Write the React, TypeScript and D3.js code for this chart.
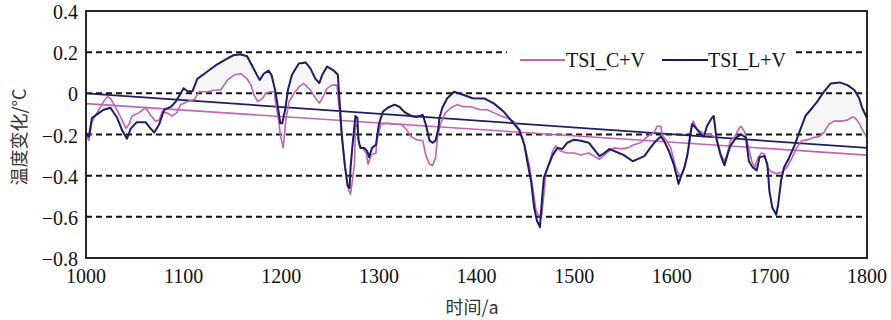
import React from "react";
import * as d3 from "d3";

const yearsL = [1000,1001,1003,1006,1012,1018,1025,1032,1037,1042,1046,1052,1061,1066,1070,1075,1080,1087,1092,1097,1100,1104,1109,1114,1124,1134,1145,1151,1158,1165,1170,1175,1178,1182,1187,1190,1194,1197,1199,1201,1204,1207,1211,1218,1225,1230,1235,1239,1242,1247,1254,1258,1260,1262,1265,1268,1270,1271,1273,1276,1278,1279,1281,1285,1288,1290,1293,1297,1300,1304,1309,1316,1321,1326,1333,1338,1345,1348,1352,1355,1358,1361,1362,1365,1370,1377,1387,1396,1408,1418,1428,1437,1444,1449,1452,1456,1459,1462,1465,1467,1469,1473,1478,1483,1488,1493,1500,1507,1515,1520,1526,1531,1536,1541,1551,1560,1565,1572,1578,1584,1589,1592,1597,1602,1607,1609,1613,1616,1619,1621,1625,1630,1633,1636,1641,1643,1646,1650,1654,1657,1660,1666,1671,1676,1679,1683,1687,1690,1695,1698,1700,1703,1707,1709,1712,1715,1720,1726,1731,1737,1744,1749,1756,1763,1772,1780,1787,1792,1795,1800];
const tsiL = [-0.19,-0.2,-0.21,-0.12,-0.1,-0.08,-0.07,-0.12,-0.18,-0.22,-0.17,-0.14,-0.14,-0.17,-0.19,-0.15,-0.08,-0.065,-0.04,0.0,0.025,0.01,0.01,0.07,0.105,0.14,0.17,0.185,0.19,0.18,0.135,0.09,0.065,0.095,0.11,0.09,0.01,-0.08,-0.145,-0.145,-0.08,0.02,0.09,0.145,0.15,0.12,0.07,0.05,0.09,0.13,0.11,0.09,-0.055,-0.2,-0.345,-0.45,-0.46,-0.36,-0.25,-0.11,-0.12,-0.225,-0.265,-0.265,-0.28,-0.31,-0.265,-0.25,-0.15,-0.09,-0.07,-0.055,-0.065,-0.09,-0.11,-0.115,-0.105,-0.15,-0.23,-0.24,-0.23,-0.17,-0.12,-0.07,-0.024,0.008,-0.008,-0.024,-0.025,-0.05,-0.09,-0.14,-0.18,-0.25,-0.33,-0.43,-0.555,-0.62,-0.65,-0.52,-0.41,-0.36,-0.3,-0.265,-0.27,-0.24,-0.225,-0.23,-0.24,-0.27,-0.305,-0.29,-0.27,-0.28,-0.3,-0.33,-0.32,-0.305,-0.265,-0.23,-0.21,-0.23,-0.28,-0.345,-0.44,-0.41,-0.36,-0.3,-0.2,-0.15,-0.17,-0.2,-0.21,-0.16,-0.12,-0.11,-0.225,-0.3,-0.35,-0.3,-0.255,-0.215,-0.2,-0.215,-0.33,-0.36,-0.375,-0.31,-0.305,-0.345,-0.475,-0.555,-0.59,-0.54,-0.425,-0.36,-0.315,-0.25,-0.185,-0.11,-0.07,-0.04,0.008,0.048,0.053,0.04,0.016,-0.024,-0.07,-0.12];

const yearsC = [1000,1003,1006,1013,1018,1022,1025,1030,1036,1041,1044,1047,1054,1061,1066,1071,1075,1078,1083,1088,1093,1097,1104,1111,1116,1124,1133,1138,1145,1152,1159,1165,1169,1172,1176,1181,1184,1189,1193,1194,1197,1199,1202,1203,1205,1208,1213,1218,1223,1228,1230,1234,1239,1242,1247,1252,1257,1260,1262,1266,1269,1271,1275,1276,1278,1280,1283,1287,1289,1292,1297,1298,1302,1309,1316,1323,1328,1333,1338,1345,1348,1352,1355,1358,1360,1363,1368,1374,1380,1387,1394,1404,1411,1418,1425,1431,1438,1444,1447,1450,1454,1457,1461,1464,1467,1469,1471,1474,1478,1481,1486,1493,1500,1507,1515,1520,1526,1531,1536,1541,1548,1555,1561,1568,1575,1582,1585,1589,1590,1594,1599,1604,1608,1611,1614,1618,1620,1622,1626,1631,1634,1640,1646,1650,1654,1657,1660,1664,1669,1671,1675,1678,1682,1685,1688,1692,1695,1698,1702,1707,1712,1718,1723,1728,1733,1740,1745,1751,1756,1761,1766,1773,1780,1785,1788,1792,1795,1800];
const tsiC = [-0.2,-0.23,-0.14,-0.08,-0.04,-0.016,-0.025,-0.065,-0.12,-0.17,-0.15,-0.11,-0.095,-0.07,-0.105,-0.135,-0.13,-0.09,-0.095,-0.11,-0.095,-0.055,-0.04,-0.03,0.008,0.008,0.016,0.016,0.065,0.09,0.095,0.07,0.04,-0.008,-0.04,-0.024,0,0.008,0.008,-0.04,-0.12,-0.2,-0.265,-0.215,-0.12,-0.04,0,0.03,0.048,0.024,0.016,-0.016,-0.048,-0.024,0.024,0.04,0.04,-0.105,-0.21,-0.38,-0.47,-0.49,-0.345,-0.15,-0.165,-0.25,-0.265,-0.29,-0.345,-0.3,-0.29,-0.23,-0.15,-0.145,-0.15,-0.15,-0.175,-0.21,-0.225,-0.23,-0.3,-0.345,-0.35,-0.315,-0.215,-0.15,-0.095,-0.07,-0.055,-0.065,-0.065,-0.08,-0.08,-0.095,-0.11,-0.12,-0.135,-0.175,-0.215,-0.265,-0.345,-0.44,-0.57,-0.595,-0.59,-0.49,-0.39,-0.345,-0.28,-0.255,-0.28,-0.29,-0.29,-0.3,-0.29,-0.305,-0.32,-0.3,-0.28,-0.265,-0.27,-0.265,-0.25,-0.24,-0.21,-0.19,-0.16,-0.16,-0.2,-0.225,-0.265,-0.36,-0.4,-0.39,-0.345,-0.25,-0.16,-0.135,-0.175,-0.19,-0.2,-0.2,-0.22,-0.29,-0.33,-0.29,-0.23,-0.215,-0.17,-0.16,-0.19,-0.25,-0.33,-0.36,-0.315,-0.29,-0.295,-0.36,-0.38,-0.39,-0.385,-0.36,-0.315,-0.265,-0.23,-0.225,-0.215,-0.21,-0.19,-0.15,-0.135,-0.135,-0.13,-0.115,-0.12,-0.145,-0.175,-0.215];

const trendYears = [1000, 1800];
const trendL = [0, -0.265];
const trendC = [-0.05, -0.3];

const xTicks = [1000, 1100, 1200, 1300, 1400, 1500, 1600, 1700, 1800];
const yTicks = [0.4, 0.2, 0, -0.2, -0.4, -0.6, -0.8];
const gridValues = [0.2, 0, -0.2, -0.4, -0.6];
const seriesNames = ["TSI_C+V", "TSI_L+V"];

const NAVY = "#1f1d62";
const PINK = "#c064b6";
const SERIF = "'Liberation Serif', 'Times New Roman', 'DejaVu Serif', serif";

export default function App() {
  const left = 86, right = 867, top = 11, bottom = 258;
  const x = d3.scaleLinear().domain([1000, 1800]).range([left, right]);
  const y = d3.scaleLinear().domain([-0.8, 0.4]).range([bottom, top]);

  const ptsL = yearsL.map((yr, i) => [yr, tsiL[i]] as [number, number]);
  const ptsC = yearsC.map((yr, i) => [yr, tsiC[i]] as [number, number]);
  const line = d3.line<[number, number]>().x(d => x(d[0])).y(d => y(d[1]));

  const interp = (ys: number[], vs: number[], t: number) => {
    const i = d3.bisectRight(ys, t);
    if (i <= 0) return vs[0];
    if (i >= ys.length) return vs[vs.length - 1];
    const a = ys[i - 1], b = ys[i];
    return vs[i - 1] + ((vs[i] - vs[i - 1]) * (t - a)) / (b - a);
  };
  const allYears = Array.from(new Set([...yearsL, ...yearsC])).sort((a, b) => a - b);
  const area = d3
    .area<number>()
    .x(t => x(t))
    .y0(t => y(interp(yearsC, tsiC, t)))
    .y1(t => y(interp(yearsL, tsiL, t)));

  const fmt = (v: number) => (v === 0 ? "0" : (v < 0 ? "\u2212" : "") + Math.abs(v).toFixed(1));

  return (
    <svg width={891} height={320} style={{ position: "absolute", left: 0, top: 0, background: "#fff" }}>
      <rect x={left} y={top} width={right - left} height={bottom - top} fill="#fff" />
      <path d={area(allYears) || ""} fill="#f6f6f6" stroke="none" />
      {gridValues.map(v => (
        <line key={v} x1={left} x2={right} y1={y(v)} y2={y(v)} stroke="#111" strokeWidth={2} strokeDasharray="6,4" />
      ))}
      <line x1={x(trendYears[0])} x2={x(trendYears[1])} y1={y(trendC[0])} y2={y(trendC[1])} stroke={PINK} strokeWidth={1.6} />
      <line x1={x(trendYears[0])} x2={x(trendYears[1])} y1={y(trendL[0])} y2={y(trendL[1])} stroke={NAVY} strokeWidth={1.8} />
      <path d={line(ptsC) || ""} fill="none" stroke={PINK} strokeWidth={1.6} strokeLinejoin="round" />
      <path d={line(ptsL) || ""} fill="none" stroke={NAVY} strokeWidth={2} strokeLinejoin="round" />
      <rect x={left} y={top} width={right - left} height={bottom - top} fill="none" stroke="#111" strokeWidth={1.8} />
      <rect x={507} y={44} width={287} height={27} fill="#fff" />
      <line x1={520} x2={565} y1={60} y2={60} stroke={PINK} strokeWidth={2} />
      <text x={566} y={67} fontFamily={SERIF} fontSize={20} fill="#111">{seriesNames[0]}</text>
      <line x1={662} x2={708} y1={60} y2={60} stroke={NAVY} strokeWidth={2} />
      <text x={708} y={67} fontFamily={SERIF} fontSize={20} fill="#111">{seriesNames[1]}</text>
      {yTicks.map(v => (
        <text key={v} x={78} y={y(v) + 8} textAnchor="end" fontFamily={SERIF} fontSize={20} fill="#111">
          {fmt(v)}
        </text>
      ))}
      {xTicks.map(t => (
        <text key={t} x={x(t)} y={283} textAnchor="middle" fontFamily={SERIF} fontSize={20} fill="#111">
          {t}
        </text>
      ))}
      <text
        transform="translate(26,137) rotate(-90)"
        textAnchor="middle"
        fontFamily="'Noto Sans CJK SC', sans-serif"
        fontSize={18}
        fill="#333"
      >
        温度变化/°C
      </text>
      <text x={472} y={314} textAnchor="middle" fontFamily="'Noto Sans CJK SC', sans-serif" fontSize={18} fill="#333">
        时间/a
      </text>
    </svg>
  );
}
